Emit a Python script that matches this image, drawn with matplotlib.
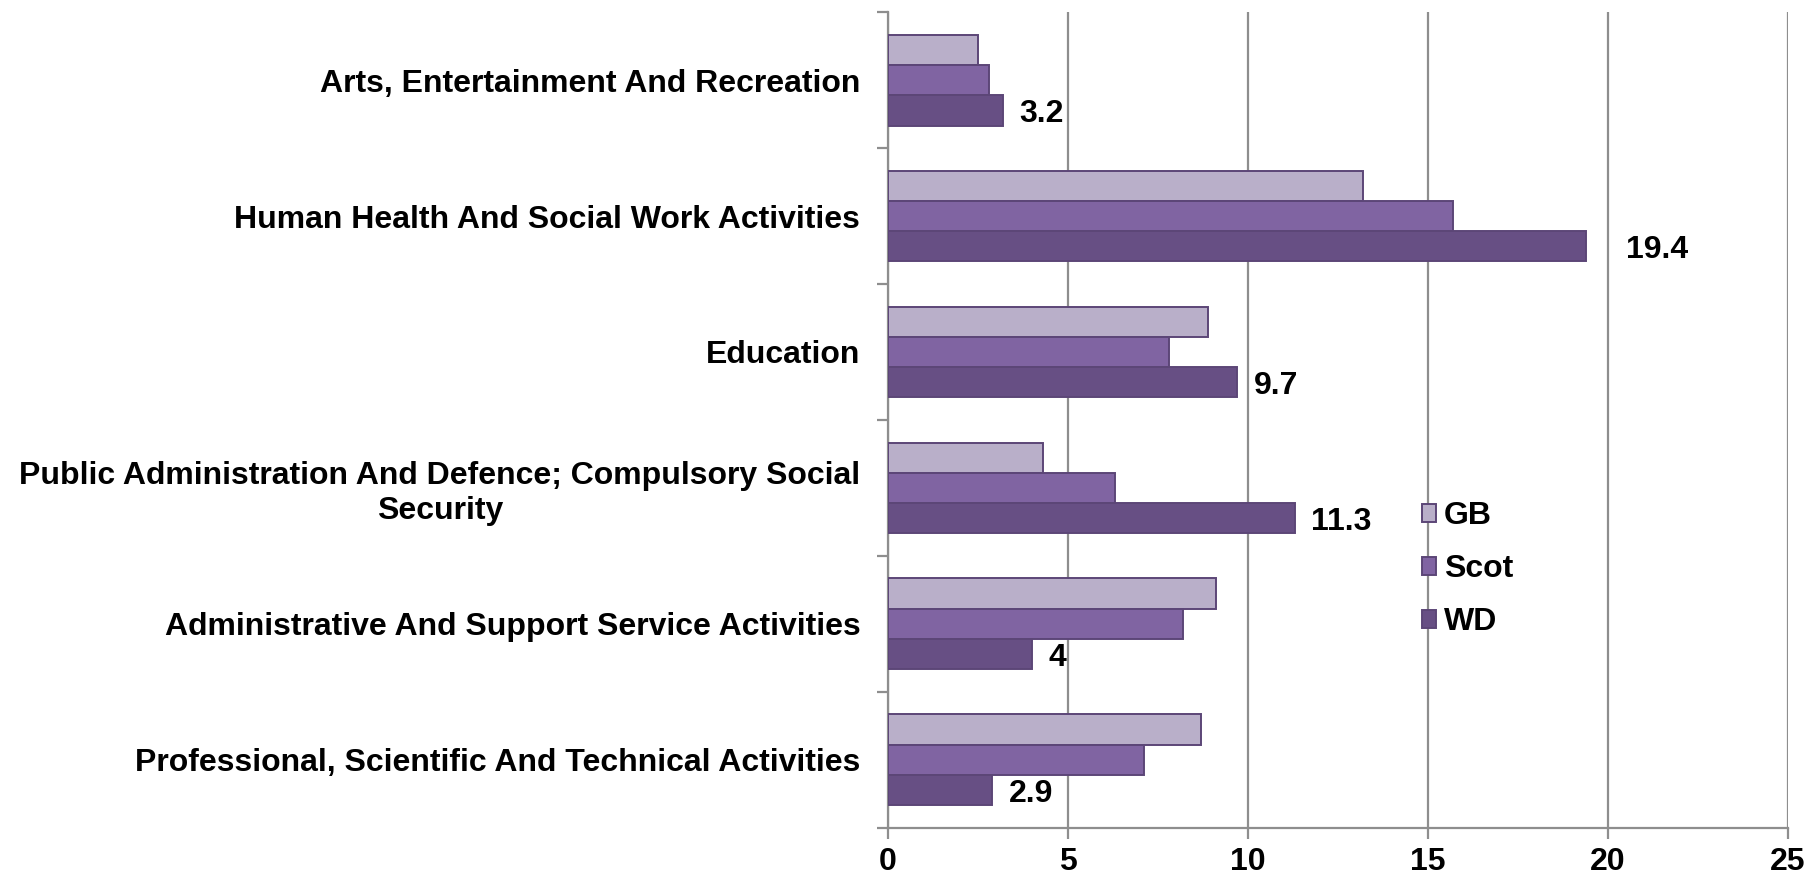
import matplotlib
matplotlib.use("Agg")
import matplotlib.pyplot as plt
from matplotlib.patches import Patch
import numpy as np

plt.rcParams['font.family'] = ['Liberation Sans', 'DejaVu Sans']
plt.rcParams['font.weight'] = 'bold'

# sectors, top to bottom
sectors = [
    "Arts, Entertainment And Recreation",
    "Human Health And Social Work Activities",
    "Education",
    "Public Administration And Defence; Compulsory Social\nSecurity",
    "Administrative And Support Service Activities",
    "Professional, Scientific And Technical Activities",
]
series_names = ["GB", "Scot", "WD"]
gb = [2.5, 13.2, 8.9, 4.3, 9.1, 8.7]
scot = [2.8, 15.7, 7.8, 6.3, 8.2, 7.1]
wd = [3.2, 19.4, 9.7, 11.3, 4.0, 2.9]

colors = ["#B9AFC9", "#8064A2", "#674F84"]
edge = "#5C4677"
grid_col = "#8E8E8E"
fs = 23

fig = plt.figure(figsize=(18.09, 8.77), dpi=100)
ax = fig.add_axes([0.4909, 0.0559, 0.4975, 0.9304])

y = np.arange(len(sectors))
h = 0.223
for k, vals in enumerate([gb, scot, wd]):
    ax.barh(y + (k - 1) * h, vals, height=h, color=colors[k], edgecolor=edge,
            linewidth=1.4, zorder=3)

# value labels on the WD bars
label_gap = [0.45, 1.1, 0.45, 0.45, 0.45, 0.45]
for i, v in enumerate(wd):
    ax.text(v + label_gap[i], y[i] + h, f"{v:g}", va="center_baseline", ha="left",
            fontsize=fs, fontweight="bold", zorder=4)

ax.set_xlim(0, 25)
ax.set_ylim(len(sectors) - 0.5, -0.5)
ax.set_xticks(range(0, 26, 5))
ax.xaxis.grid(True, color=grid_col, linewidth=1.6, zorder=0)
ax.set_axisbelow(True)

# category labels in the middle, tick marks between categories
ax.set_yticks(np.arange(-0.5, len(sectors), 1))
ax.set_yticklabels([])
ax.set_yticks(y, minor=True)
ax.set_yticklabels(sectors, minor=True, fontsize=fs, fontweight="bold",
                   multialignment="center")
ax.tick_params(axis="y", which="minor", length=0, pad=20)
ax.tick_params(axis="y", which="major", length=8, width=1.6, color=grid_col)
ax.tick_params(axis="x", length=8, width=1.6, color=grid_col, labelsize=fs, pad=6)
for lab in ax.get_xticklabels():
    lab.set_fontweight("bold")

for s in ["top", "right"]:
    ax.spines[s].set_visible(False)
for s in ["left", "bottom"]:
    ax.spines[s].set_color(grid_col)
    ax.spines[s].set_linewidth(1.6)

handles = [Patch(facecolor=c, edgecolor=edge, linewidth=1.4) for c in colors]
leg = ax.legend(handles, series_names, loc="center left",
                bbox_to_anchor=(0.561, 0.317), frameon=False,
                handlelength=0.45, handleheight=0.45, handletextpad=0.25,
                labelspacing=0.72, prop={"size": fs, "weight": "bold"})

fig.savefig("out.png", dpi=100)
